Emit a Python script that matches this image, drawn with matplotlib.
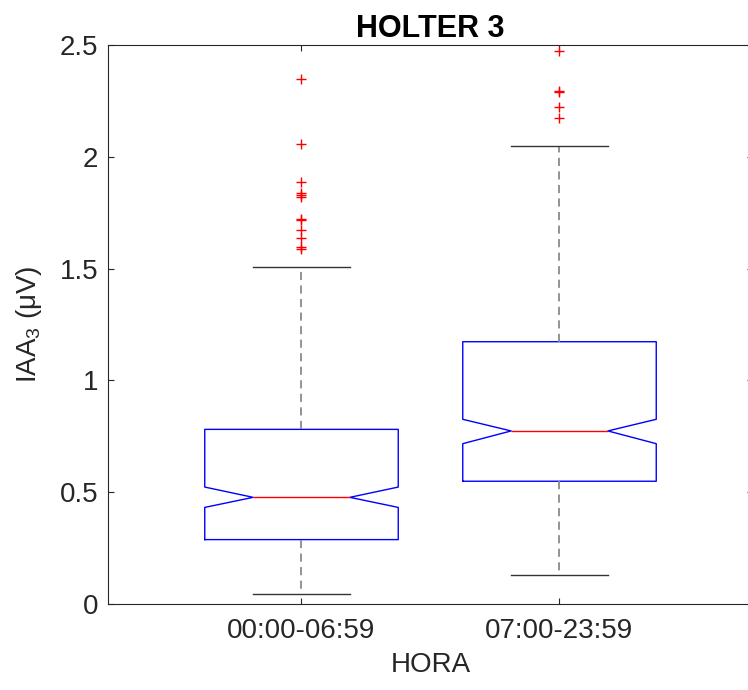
import numpy as np
import matplotlib
matplotlib.use("Agg")
import matplotlib.pyplot as plt

plt.rcParams['font.family'] = ['Liberation Sans', 'DejaVu Sans']
plt.rcParams['mathtext.default'] = 'regular'

# box statistics per time window
labels = ['00:00-06:59', '07:00-23:59']
q1 = [0.288, 0.549]
med = [0.477, 0.774]
q3 = [0.781, 1.173]
ci_lo = [0.432, 0.717]
ci_hi = [0.523, 0.826]
whis_lo = [0.043, 0.130]
whis_hi = [1.507, 2.048]
fliers_night = [2.347, 2.056, 1.887, 1.840, 1.829, 1.820, 1.723, 1.718,
                1.671, 1.635, 1.598, 1.588]
fliers_day = [2.475, 2.293, 2.290, 2.224, 2.173]

yticks = [0, 0.5, 1, 1.5, 2, 2.5]
ytick_labels = ['0', '0.5', '1', '1.5', '2', '2.5']

stats = []
for i, fl in enumerate([fliers_night, fliers_day]):
    stats.append(dict(label=labels[i], q1=q1[i], med=med[i], q3=q3[i],
                      cilo=ci_lo[i], cihi=ci_hi[i],
                      whislo=whis_lo[i], whishi=whis_hi[i],
                      fliers=np.array(fl)))

txt = '#262626'
fig = plt.figure(figsize=(7.48, 6.9), dpi=100)
ax = fig.add_axes([108 / 748, 1 - 604 / 690, 645 / 748, 559 / 690])

ax.bxp(stats, positions=[1, 2], widths=0.75, shownotches=True,
       boxprops=dict(color='blue', linewidth=1.0),
       medianprops=dict(color='red', linewidth=1.0),
       whiskerprops=dict(color='#8a8a8a', linewidth=1.3, linestyle=(0, (4.5, 3))),
       capprops=dict(color='#333333', linewidth=1.0),
       flierprops=dict(marker='+', markeredgecolor='red', markersize=7,
                       markeredgewidth=1.0, linestyle='none'))

ax.set_xlim(0.25, 2.75)
ax.set_ylim(0, 2.5)
ax.set_xticks([1, 2])
ax.set_xticklabels(labels)
ax.set_yticks(yticks)
ax.set_yticklabels(ytick_labels)

ax.tick_params(direction='in', length=4, width=0.8, colors=txt,
               labelsize=20, top=True, right=True)
ax.tick_params(axis='y', pad=7)
ax.tick_params(axis='x', pad=10)
for s in ax.spines.values():
    s.set_color(txt)
    s.set_linewidth(0.8)

ax.set_title('HOLTER 3', fontsize=22, fontweight='bold', color='black', pad=6)
ax.set_xlabel('HORA', fontsize=20, color=txt, labelpad=6)
ax.set_ylabel('IAA$_3$ (μV)', fontsize=20, color=txt, labelpad=11)

fig.savefig('out.png', dpi=100, facecolor='white')
